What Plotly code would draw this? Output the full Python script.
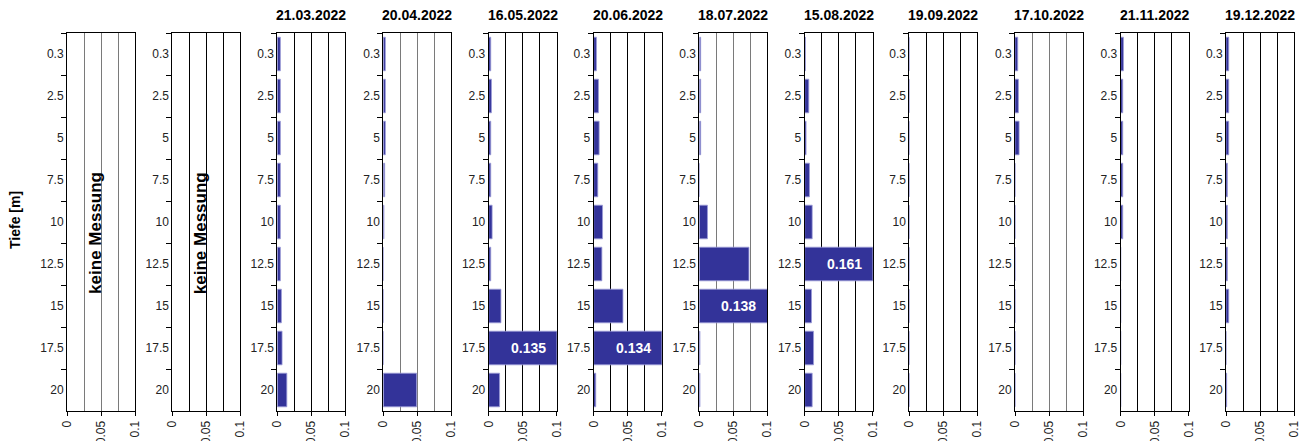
import plotly.graph_objects as go

# ---------------- data ----------------
depths = ["0.3", "2.5", "5", "7.5", "10", "12.5", "15", "17.5", "20"]

panel_titles = [None, None, "21.03.2022", "20.04.2022", "16.05.2022", "20.06.2022",
                "18.07.2022", "15.08.2022", "19.09.2022", "17.10.2022",
                "21.11.2022", "19.12.2022"]

v_2103 = [0.0045, 0.0045, 0.0045, 0.0045, 0.0045, 0.0045, 0.006, 0.007, 0.014]
v_2004 = [0.003, 0.003, 0.003, 0.002, 0.001, 0, 0, 0, 0.049]
v_1605 = [0.003, 0.004, 0.003, 0.003, 0.005, 0.003, 0.018, 0.135, 0.016]
v_2006 = [0.004, 0.007, 0.008, 0.006, 0.013, 0.012, 0.043, 0.134, 0.003]
v_1807 = [0.002, 0.002, 0.002, 0, 0.012, 0.073, 0.138, 0.001, 0.001]
v_1508 = [0.001, 0.006, 0.002, 0.007, 0.011, 0.161, 0.010, 0.013, 0.011]
v_1909 = [0, 0, 0, 0, 0, 0, 0, 0, 0]
v_1710 = [0.004, 0.005, 0.006, 0, 0, 0, 0, 0, 0]
v_2111 = [0.004, 0.003, 0.003, 0.003, 0.003, 0, 0, 0, 0]
v_1912 = [0.004, 0.004, 0.004, 0.002, 0.002, 0.002, 0.004, 0, 0.001]

panel_values = [None, None, v_2103, v_2004, v_1605, v_2006, v_1807, v_1508,
                v_1909, v_1710, v_2111, v_1912]

x_max = 0.1
x_ticks = [0, 0.05, 0.1]
x_ticktext = ["0", "0.05", "0.1"]
no_data_text = "keine Messung"
y_title = "Tiefe [m]"

# ---------------- layout geometry ----------------
W, H = 1307, 441
OFF = 8  # page body margin
panel_left = [67, 172.3, 277.3, 383.3, 488.7, 593.7, 699.3, 804.7, 909.3, 1015, 1120.7, 1226]
panel_w = 68
plot_top, plot_bottom = 33, 411
font_family = "Liberation Sans, Arial, sans-serif"
bar_color = "#333399"


def px(xp):
    return (xp - OFF) / W


def py(yp):
    return 1 - (yp - OFF) / H


fig = go.Figure()
annotations = []
layout = {}

for i in range(12):
    n = "" if i == 0 else str(i + 1)
    xa, ya = "x" + n, "y" + n
    vals = panel_values[i]
    xs = vals if vals is not None else [None] * len(depths)
    fig.add_trace(go.Bar(
        x=xs, y=depths, orientation="h", xaxis=xa, yaxis=ya,
        marker=dict(color=bar_color, line=dict(color="#9a9ad8", width=0.8)),
        showlegend=False, hoverinfo="x+y",
    ))
    grid_col = "#7a7a7a" if i in (0, 3, 6, 9) else "#000000"
    layout["xaxis" + n] = dict(
        domain=[px(panel_left[i]), px(panel_left[i] + panel_w)],
        anchor=ya, range=[0, x_max], automargin=False,
        tickvals=x_ticks, ticktext=x_ticktext, tickangle=-90,
        ticks="outside", ticklen=4, tickcolor="#000",
        showgrid=True, gridcolor=grid_col, gridwidth=1,
        minor=dict(tickvals=[0.025, 0.075], showgrid=True, gridcolor=grid_col,
                   gridwidth=1, ticks=""),
        showline=True, linecolor="#000", linewidth=1, mirror=True,
        zeroline=False, fixedrange=True,
        tickfont=dict(family=font_family, size=12, color="#222"),
    )
    layout["yaxis" + n] = dict(
        domain=[py(plot_bottom), py(plot_top)],
        anchor=xa, type="category", categoryorder="array", categoryarray=depths,
        autorange="reversed", tickson="boundaries", automargin=False,
        ticks="outside", ticklen=5, tickcolor="#000",
        showgrid=False, showline=True, linecolor="#000", linewidth=1, mirror=True,
        zeroline=False, fixedrange=True,
        tickfont=dict(family=font_family, size=12, color="#222"),
    )
    # titles
    if panel_titles[i]:
        annotations.append(dict(
            text="<b>%s</b>" % panel_titles[i], xref="paper", yref="paper",
            x=px(panel_left[i] + panel_w / 2), y=py(15),
            xanchor="center", yanchor="middle", showarrow=False,
            font=dict(family=font_family, size=14, color="#000"),
        ))
    else:
        annotations.append(dict(
            text="<b>%s</b>" % no_data_text, xref=xa, yref="paper",
            x=0.041, y=py(233), textangle=-90,
            xanchor="center", yanchor="middle", showarrow=False,
            font=dict(family=font_family, size=17, color="#000"),
        ))
    # labels for bars exceeding the axis range
    if vals is not None:
        for k, v in enumerate(vals):
            if v > x_max:
                annotations.append(dict(
                    text="<b>%s</b>" % v, xref=xa, yref=ya,
                    x=0.058, y=k, xanchor="center", yanchor="middle",
                    showarrow=False,
                    font=dict(family=font_family, size=14, color="#ffffff"),
                ))

annotations.append(dict(
    text="<b>%s</b>" % y_title, xref="paper", yref="paper",
    x=px(15), y=py(220), textangle=-90,
    xanchor="center", yanchor="middle", showarrow=False,
    font=dict(family=font_family, size=14, color="#000"),
))

fig.update_layout(
    width=W, height=H,
    margin=dict(l=0, r=0, t=0, b=0),
    paper_bgcolor="white", plot_bgcolor="white",
    bargap=0.2,
    annotations=annotations,
    font=dict(family=font_family),
    **layout,
)

fig.write_html("out.html")
